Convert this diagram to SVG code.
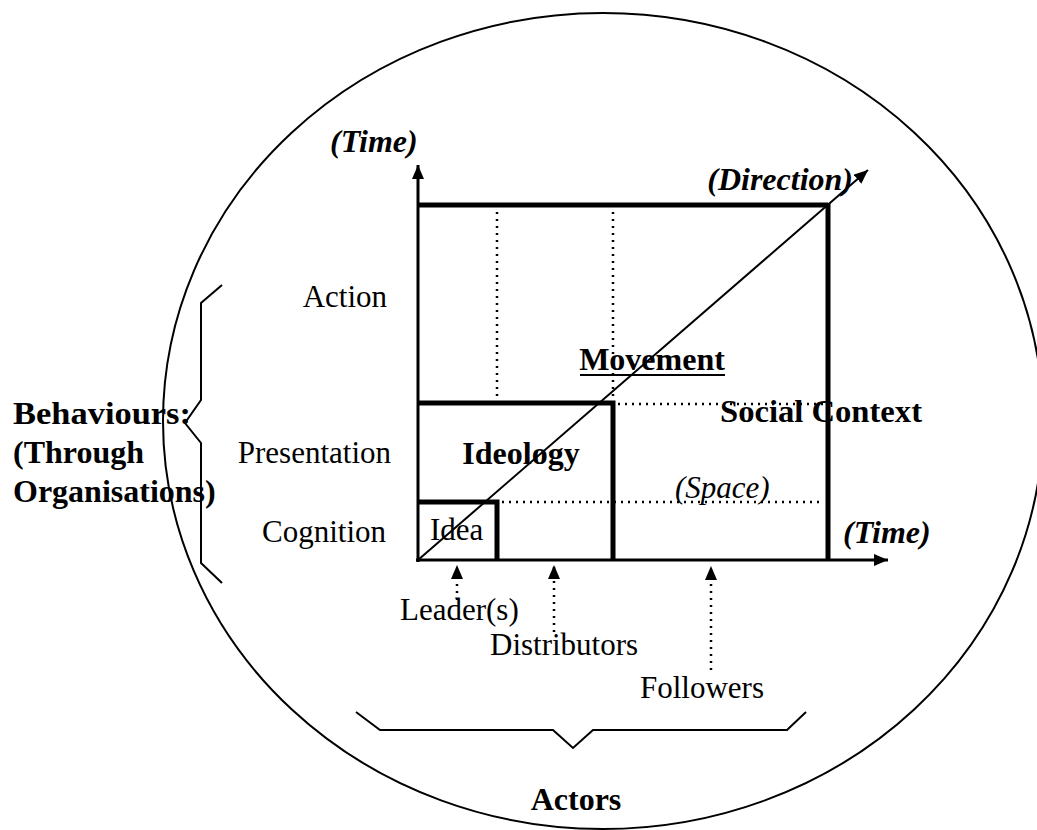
<svg xmlns="http://www.w3.org/2000/svg" width="1037" height="830" viewBox="0 0 1037 830">
<defs>
<style>
.reg{font-family:"Liberation Serif","Times New Roman",serif;font-size:31px;fill:#000}
.bold{font-family:"Liberation Serif","Times New Roman",serif;font-size:32px;font-weight:bold;fill:#000}
.bi{font-family:"Liberation Serif","Times New Roman",serif;font-size:32px;font-weight:bold;font-style:italic;fill:#000}
.it{font-family:"Liberation Serif","Times New Roman",serif;font-size:31px;font-style:italic;fill:#000}
.thick{stroke:#000;stroke-width:5;fill:none}
.axis{stroke:#000;stroke-width:3;fill:none}
.thin{stroke:#000;stroke-width:2;fill:none}
.dot{stroke:#000;stroke-width:2.5;fill:none;stroke-dasharray:2 5}
</style>
<marker id="ah" viewBox="0 0 14 12" refX="14" refY="6" markerWidth="14" markerHeight="12" markerUnits="userSpaceOnUse" orient="auto">
<path d="M0,0 L14,6 L0,12 Z" fill="#000"/>
</marker>
</defs>
<rect width="1037" height="830" fill="#fff"/>
<ellipse cx="603" cy="421" rx="440" ry="408" class="thin"/>
<g id="connectors">
<line x1="418" y1="562" x2="418" y2="165" class="axis" marker-end="url(#ah)"/>
<line x1="416" y1="560" x2="888" y2="560" class="axis" marker-end="url(#ah)"/>
<line x1="418" y1="560" x2="868" y2="170" class="thin" marker-end="url(#ah)"/>
<line x1="457" y1="600" x2="457" y2="565" class="dot" marker-end="url(#ah)"/>
<line x1="554" y1="632" x2="554" y2="565" class="dot" marker-end="url(#ah)"/>
<line x1="711" y1="670" x2="711" y2="566" class="dot" marker-end="url(#ah)"/>
</g>
<g id="grid">
<line x1="418" y1="205" x2="828" y2="205" class="thick"/>
<line x1="828" y1="203" x2="828" y2="560" class="thick"/>
<line x1="497" y1="212" x2="497" y2="402" class="dot"/>
<line x1="613" y1="212" x2="613" y2="402" class="dot"/>
<line x1="618" y1="404" x2="826" y2="404" class="dot"/>
<line x1="502" y1="502" x2="824" y2="502" class="dot"/>
</g>
<g id="movement">
<text x="652" y="370" class="bold" text-anchor="middle">Movement</text>
<line x1="580" y1="375" x2="725" y2="375" stroke="#000" stroke-width="2"/>
</g>
<g id="ideology">
<polyline points="418,403 613,403 613,560" class="thick"/>
<text x="521" y="464" class="bold" text-anchor="middle">Ideology</text>
</g>
<g id="idea">
<polyline points="418,502 497,502 497,560" class="thick"/>
<text x="430" y="540" class="reg">Idea</text>
</g>
<g id="social-context">
<text x="720" y="422" class="bold" textLength="202" lengthAdjust="spacingAndGlyphs">Social Context</text>
</g>
<g id="space">
<text x="675" y="498" class="it">(Space)</text>
</g>
<g id="time-top"><text x="330" y="152" class="bi">(Time)</text></g>
<g id="time-right"><text x="843" y="543" class="bi">(Time)</text></g>
<g id="direction"><text x="853" y="190" class="bi" text-anchor="end">(Direction)</text></g>
<g id="levels">
<text x="387" y="307" class="reg" text-anchor="end">Action</text>
<text x="391" y="463" class="reg" text-anchor="end">Presentation</text>
<text x="386" y="542" class="reg" text-anchor="end">Cognition</text>
</g>
<g id="behaviours">
<polyline points="222,285 201,303 201,400 185,423 201,443 201,563 222,583" class="thin"/>
<text x="13" y="424" class="bold" textLength="178" lengthAdjust="spacingAndGlyphs">Behaviours:</text>
<text x="13" y="463" class="bold">(Through</text>
<text x="13" y="502" class="bold">Organisations)</text>
</g>
<g id="actors">
<text x="400" y="620" class="reg">Leader(s)</text>
<text x="490" y="655" class="reg">Distributors</text>
<text x="640" y="698" class="reg">Followers</text>
<polyline points="356,712 380,730 553,730 573,748 593,730 787,730 806,712" class="thin"/>
<text x="576" y="810" class="bold" text-anchor="middle">Actors</text>
</g>
</svg>
